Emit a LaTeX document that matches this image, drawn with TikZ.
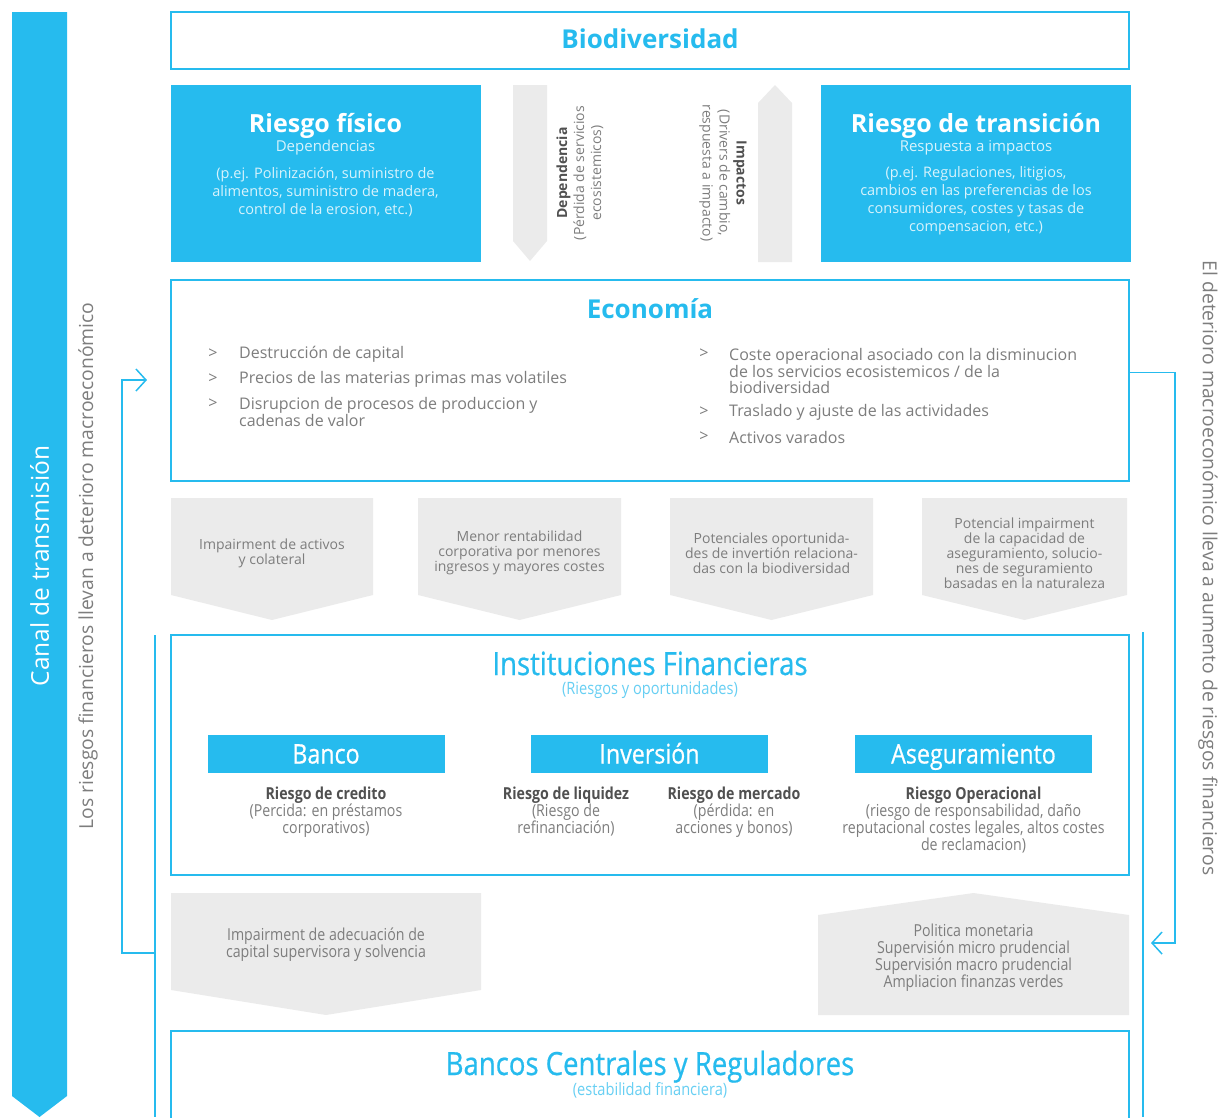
\documentclass[tikz,border=0pt]{standalone}
\usepackage{fontspec}
\setmainfont{Open Sans}
\newfontfamily\condfont[FakeStretch=0.86]{Open Sans}
\newfontfamily\condheadfont[FakeStretch=0.86, FakeBold=0.6]{Open Sans}
\usepackage{xcolor}
\usetikzlibrary{arrows.meta, positioning}
\definecolor{mainblue}{RGB}{38,187,238}
\definecolor{arrowgrey}{RGB}{235,235,235}
\definecolor{txtgrey}{RGB}{125,125,125}
\definecolor{darkgrey}{RGB}{80,80,80}
\colorlet{paleblue}{white!82!mainblue}
\colorlet{softblue}{mainblue!70!white}
\newcommand\riskhead[1]{{\color{darkgrey}\bfseries #1}}
\tikzset{
  frame/.style    = {rectangle, draw=mainblue, line width=2pt, fill=white,
                     minimum width=958pt, inner sep=0pt},
  riskbox/.style  = {rectangle, fill=mainblue, minimum width=310pt,
                     minimum height=177pt, inner sep=0pt},
  tab/.style      = {rectangle, fill=mainblue, text=white, inner sep=0pt,
                     minimum width=237pt, minimum height=38pt,
                     text height=22pt, text depth=3pt,
                     font=\condheadfont\fontsize{27}{30}\selectfont},
  headline/.style = {text=mainblue, inner sep=0pt, font=\bfseries\fontsize{26}{30}\selectfont},
  condhead/.style = {text=mainblue, inner sep=0pt, anchor=base, font=\condheadfont\fontsize{32}{34}\selectfont},
  condsub/.style  = {text=softblue, inner sep=0pt, anchor=base, font=\condfont\fontsize{17}{19}\selectfont},
  whitehead/.style= {text=white, inner sep=0pt, font=\bfseries\fontsize{25}{29}\selectfont},
  whitesub/.style = {text=paleblue, inner sep=0pt, align=center, font=\fontsize{15}{18}\selectfont},
  sidetext/.style = {text=txtgrey, inner sep=0pt, font=\fontsize{19.3}{22}\selectfont},
  item/.style     = {text=txtgrey, inner sep=0pt, align=left, font=\fontsize{16}{16.5}\selectfont},
  greytext/.style = {text=txtgrey, inner sep=0pt, align=center, font=\fontsize{14}{15}\selectfont},
  fitext/.style   = {text=txtgrey, inner sep=0pt, align=center, font=\condfont\fontsize{16.5}{17}\selectfont},
  link/.style     = {draw=mainblue, line width=1.5pt},
  barb/.style     = {-{Straight Barb[length=10pt, width=22pt, line width=1.5pt]}},
}
\begin{document}
\begin{tikzpicture}[x=1pt, y=-1pt]
  \useasboundingbox (0,0) rectangle (1220,1117);

  % transmission band and side notes
  \fill[mainblue] (12,12) -- (67,12) -- (67,1096) -- (39.5,1117) -- (12,1096) -- cycle;
  \node[rotate=90, text=white, inner sep=0pt, font=\fontsize{24.5}{27}\selectfont] (canal) at (39.5,566) {Canal de transmisión};
  \node[rotate=90, sidetext] (leftnote) at (88,566) {Los riesgos financieros llevan a deterioro macroeconómico};
  \node[rotate=-90, sidetext] (rightnote) at (1208,568) {El deterioro macroeconómico lleva a aumento de riesgos financieros};

  % biodiversity
  \node[frame, minimum height=57pt] (bio) at (650,40.5) {};
  \node[headline] (biot) at (650,39) {Biodiversidad};

  \node[riskbox] (fisico) at (325.5,173.5) {};
  \node[whitehead] (fisicot) at (325.5,126) {Riesgo físico};
  \node[whitesub] (fisicos) at (325.5,147.5) {Dependencias};
  \node[whitesub, font=\fontsize{14.5}{18}\selectfont] (fisicod) at (325.5,192) {(p.ej. Polinización, suministro de\\alimentos, suministro de madera,\\control de la erosion, etc.)};

  \node[riskbox] (trans) at (976,173.5) {};
  \node[whitehead] (transt) at (976,126) {Riesgo de transición};
  \node[whitesub] (transs) at (976,147.5) {Respuesta a impactos};
  \node[whitesub, font=\fontsize{14.5}{18}\selectfont] (transd) at (976,201) {(p.ej. Regulaciones, litigios,\\cambios en las preferencias de los\\consumidores, costes y tasas de\\compensacion, etc.)};

  % dependency / impact arrows
  \fill[arrowgrey] (513,85) -- (547,85) -- (547,241) -- (530,261) -- (513,241) -- cycle;
  \fill[arrowgrey] (758,262) -- (758,103) -- (775,85) -- (792,103) -- (792,262) -- cycle;
  \node[rotate=90, greytext, font=\fontsize{14}{17}\selectfont] (dep) at (580,173) {\riskhead{Dependencia}\\(Pérdida de servicios\\ecosistemicos)};
  \node[rotate=-90, greytext, font=\fontsize{14}{17}\selectfont] (imp) at (723,173) {\riskhead{Impactos}\\(Drivers de cambio,\\respuesta a impacto)};

  % economy
  \node[frame, minimum height=201pt] (econ) at (650,380.5) {};
  \node[headline] (econt) at (650,309) {Economía};
  \foreach \yy in {354,379,404}
    \node[item] (chevL\yy) at (213,\yy) {>};
  \foreach \yy in {354,412,437}
    \node[item] (chevR\yy) at (704,\yy) {>};
  \node[item, anchor=west] (e1) at (239,354) {Destrucción de capital};
  \node[item, anchor=west] (e2) at (239,379) {Precios de las materias primas mas volatiles};
  \node[item, anchor=west] (e3) at (239,412) {Disrupcion de procesos de produccion y\\cadenas de valor};
  \node[item, anchor=west] (e4) at (729,371) {Coste operacional asociado con la disminucion\\de los servicios ecosistemicos / de la\\biodiversidad};
  \node[item, anchor=west] (e5) at (729,412) {Traslado y ajuste de las actividades};
  \node[item, anchor=west] (e6) at (729,437) {Activos varados};

  % channels economy -> finance
  \foreach \xa/\xb in {171/373, 418/621, 670/873, 922/1127}
    \fill[arrowgrey] (\xa,498) -- (\xb,498) -- (\xb,595) -- ({(\xa+\xb)/2},620) -- (\xa,595) -- cycle;
  \node[greytext] (flow1) at (272,553) {Impairment de activos\\y colateral};
  \node[greytext] (flow2) at (519.5,553) {Menor rentabilidad\\corporativa por menores\\ingresos y mayores costes};
  \node[greytext] (flow3) at (771.5,553) {Potenciales oportunida-\\des de invertión relaciona-\\das con la biodiversidad};
  \node[greytext] (flow4) at (1024.5,553) {Potencial impairment\\de la capacidad de\\aseguramiento, solucio-\\nes de seguramiento\\basadas en la naturaleza};

  % financial institutions
  \node[frame, minimum height=240pt] (fin) at (650,755) {};
  \node[condhead] (fint) at (650,675) {Instituciones Financieras};
  \node[condsub] (fins) at (650,694) {(Riesgos y oportunidades)};
  \node[tab] (banco) at (326,754) {Banco};
  \node[tab] (inver) at (649.5,754) {Inversión};
  \node[tab] (asegu) at (973.5,754) {Aseguramiento};
  \node[fitext] (credito) at (326,812) {\riskhead{Riesgo de credito}\\(Percida: en préstamos\\corporativos)};
  \node[fitext] (liquidez) at (566,812) {\riskhead{Riesgo de liquidez}\\(Riesgo de\\refinanciación)};
  \node[fitext] (mercado) at (734,812) {\riskhead{Riesgo de mercado}\\(pérdida: en\\acciones y bonos)};
  \node[fitext] (operac) at (973.5,820) {\riskhead{Riesgo Operacional}\\(riesgo de responsabilidad, daño\\reputacional costes legales, altos costes\\de reclamacion)};

  % channels finance <-> regulators
  \fill[arrowgrey] (171,893) -- (481,893) -- (481,990) -- (326,1015) -- (171,990) -- cycle;
  \fill[arrowgrey] (818,915) -- (973.5,893) -- (1129,915) -- (1129,1015) -- (818,1015) -- cycle;
  \node[fitext] (solv) at (326,945) {Impairment de adecuación de\\capital supervisora y solvencia};
  \node[fitext] (polit) at (973.5,958) {Politica monetaria\\Supervisión micro prudencial\\Supervisión macro prudencial\\Ampliacion finanzas verdes};

  % central banks
  \node[frame, minimum height=110pt] (bcr) at (650,1086) {};
  \node[condhead] (bcrt) at (650,1075) {Bancos Centrales y Reguladores};
  \node[condsub] (bcrs) at (650,1095) {(estabilidad financiera)};

  % feedback loops
  \coordinate (lbartop) at (155,635);
  \coordinate (lbarbot) at (155,1117);
  \coordinate (lbarjoin) at (155,953);
  \coordinate (econin) at (147,380);
  \coordinate (rbartop) at (1143,632);
  \coordinate (rbarbot) at (1143,1117);
  \coordinate (rbarin) at (1151,943);
  \draw[link] (lbartop) -- (lbarbot);
  \draw[link] (rbartop) -- (rbarbot);
  \draw[link, barb] (lbarjoin) -- ++(-33,0) |- (econin);
  \draw[link, barb] ([yshift=8pt]econ.east) -- ++(45,0) |- (rbarin);
\end{tikzpicture}
\end{document}
